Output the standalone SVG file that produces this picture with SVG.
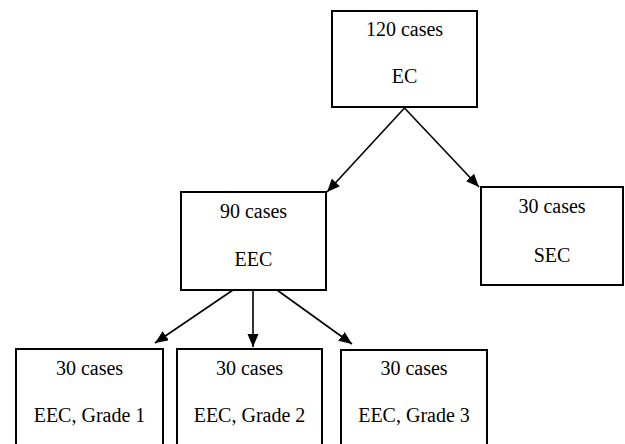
<svg xmlns="http://www.w3.org/2000/svg" width="625" height="444" viewBox="0 0 625 444">
<style>
.box{fill:#fff;stroke:#000;stroke-width:2}
.t{font-size:20px;fill:#000;text-anchor:middle}
.c{stroke:#000;stroke-width:1.6;fill:none;marker-end:url(#ah)}
</style>
<defs>
<marker id="ah" markerUnits="userSpaceOnUse" markerWidth="14" markerHeight="12" refX="13" refY="5.5" orient="auto">
<path d="M0,0 L13,5.5 L0,11 z" fill="#000"/>
</marker>
</defs>
<rect width="625" height="444" fill="#fff"/>
<g id="connectors">
<line class="c" x1="404.5" y1="108" x2="327" y2="192"/>
<line class="c" x1="404.5" y1="108" x2="479" y2="187"/>
<line class="c" x1="233" y1="290" x2="155" y2="343"/>
<line class="c" x1="253" y1="290" x2="253" y2="347"/>
<line class="c" x1="277" y1="290" x2="352" y2="344"/>
</g>
<g font-family="'Liberation Serif', 'Times New Roman', Times, 'DejaVu Serif', serif">
<g id="node-ec">
<rect class="box" x="332" y="11" width="145" height="96"/>
<text class="t" x="404.5" y="36">120 cases</text>
<text class="t" x="404.5" y="83">EC</text>
</g>
<g id="node-eec">
<rect class="box" x="181" y="192" width="145" height="98"/>
<text class="t" x="253.5" y="218">90 cases</text>
<text class="t" x="253.5" y="266">EEC</text>
</g>
<g id="node-sec">
<rect class="box" x="481" y="187" width="142" height="98"/>
<text class="t" x="552" y="213">30 cases</text>
<text class="t" x="552" y="262">SEC</text>
</g>
<g id="node-g1">
<rect class="box" x="16" y="349" width="147" height="110"/>
<text class="t" x="89.5" y="375">30 cases</text>
<text class="t" x="89.5" y="422">EEC, Grade 1</text>
</g>
<g id="node-g2">
<rect class="box" x="177" y="349" width="145" height="110"/>
<text class="t" x="249.5" y="375">30 cases</text>
<text class="t" x="249.5" y="422">EEC, Grade 2</text>
</g>
<g id="node-g3">
<rect class="box" x="341" y="350" width="146" height="110"/>
<text class="t" x="414" y="375">30 cases</text>
<text class="t" x="414" y="422">EEC, Grade 3</text>
</g>
</g>
</svg>
